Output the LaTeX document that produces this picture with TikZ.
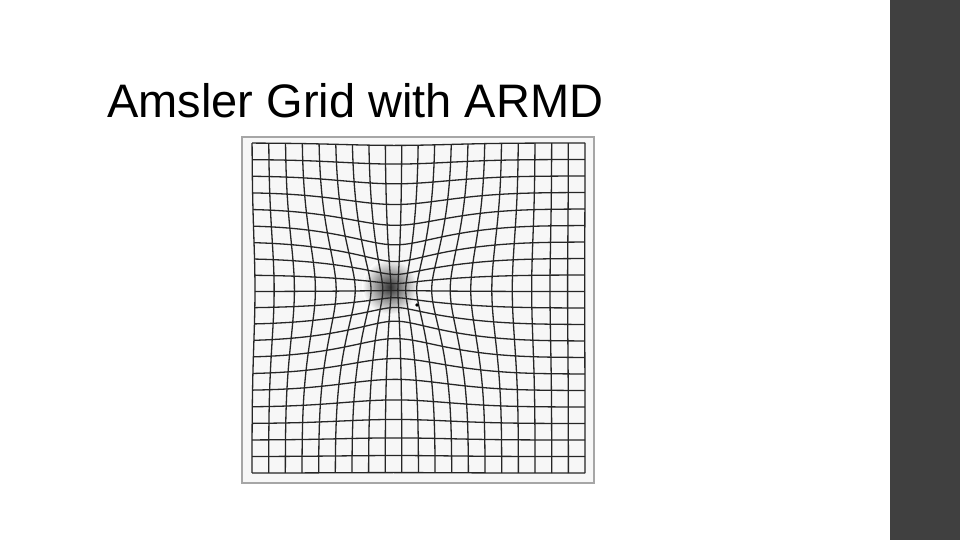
\documentclass[tikz,border=0pt]{standalone}
\usepackage{fontspec}
\setmainfont{Liberation Sans}
\begin{document}
\begin{tikzpicture}[x=1pt,y=-1pt,
  gl/.style={line width=1.3pt,draw=black!85},
  declare function={
    cx=8.6; cy=8.9; kk=0.6; ss=22;
    ff(\a,\b)=kk*exp(-((\a-cx)^2+(\b-cy)^2)/ss);
    gx(\a,\b)=252+16.65*(\a-(\a-cx)*ff(\a,\b));
    gy(\a,\b)=143+16.5*(\b-(\b-cy)*ff(\a,\b));
  }]
\useasboundingbox (0,0) rectangle (960,540);
\fill[white] (0,0) rectangle (960,540);
\fill[black!75] (890,0) rectangle (960,540);
\node[anchor=base west,font=\fontsize{47}{50}\selectfont,inner sep=0] (title) at (107,118) {Amsler Grid with ARMD};
\draw[black!35,line width=1.5pt,fill=black!3] (242,137) rectangle (594,483);
\shade[inner color=black!80,outer color=white] (390,287) circle (28);
\foreach \i in {0,...,20}{
  \draw[gl] plot[variable=\t,domain=0:20,samples=81,smooth] ({gx(\i,\t)},{gy(\i,\t)});
  \draw[gl] plot[variable=\t,domain=0:20,samples=81,smooth] ({gx(\t,\i)},{gy(\t,\i)});
}
\fill[black] (417,305) circle (1.8);
\end{tikzpicture}
\end{document}
